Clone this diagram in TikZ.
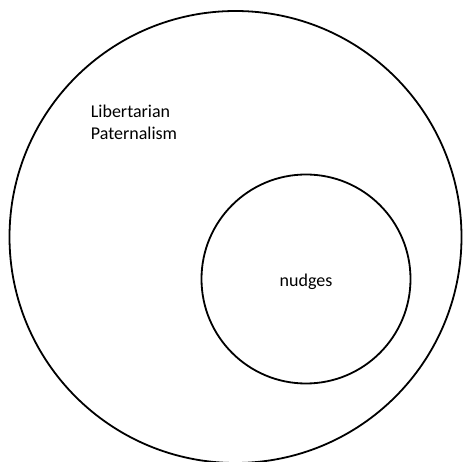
\documentclass[tikz,border=0pt]{standalone}
\usepackage{fontspec}
\setmainfont{Carlito}
\begin{document}
\begin{tikzpicture}[x=1pt,y=-1pt,
  ring/.style={circle,draw=black,line width=1.8pt,inner sep=0pt,fill=none},
  lbl/.style={font=\fontsize{18}{22}\selectfont,inner sep=0pt,text=black}]
\useasboundingbox (0,0) rectangle (463,462);
\node[ring,minimum size=452pt] (lp) at (235.5,237) {};
\node[ring,minimum size=209pt] (nd) at (306,279) {};
\node[lbl,anchor=base west,align=left] (lpt) at (90.7,140) {Libertarian\\Paternalism};
\node[lbl,anchor=base] (ndt) at (306,287) {nudges};
\end{tikzpicture}
\end{document}
